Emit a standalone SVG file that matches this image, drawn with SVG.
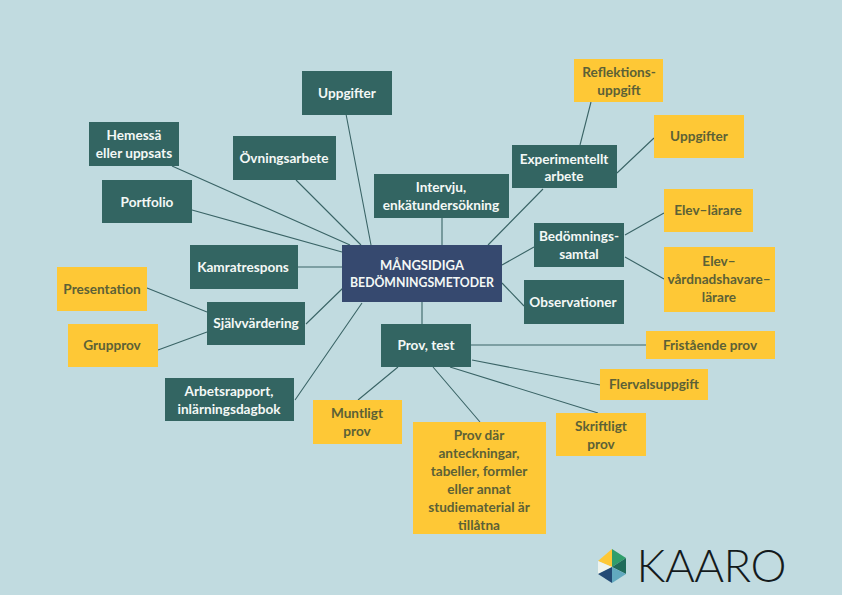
<svg xmlns="http://www.w3.org/2000/svg" width="842" height="595" viewBox="0 0 842 595">
<style>
.g rect{fill:#336562}
.y rect{fill:#fec836}
.c rect{fill:#36496f}
text{font-family:"Lato","Liberation Sans",sans-serif;font-weight:700;font-size:13.6px;text-anchor:middle}
.g text,.c text{fill:#f4f8f6}
.c text{font-size:13px}
.y text{fill:#5c6136}
#connectors path{stroke:#3a6466;stroke-width:1.1;fill:none}
</style>
<rect width="842" height="595" fill="#c1dbe0"/>
<g id="connectors">
<path d="M346 114L371 245M172 166L350 245M296 180L361 245M192 210L342 252M298 267H342M306 324L343 288M295 400L362 303M442 218V245M488 245L543 189M502 265L534 247M502 283L524 306M422 302V324M147 288L207 312M158 350L207 332M591 102L580 145M654 138L617 173M625 235L664 213M625 257L664 279M471 345H646M472 360L600 385M450 367L598 413M433 367L480 422M398 367L358 400"/>
</g>
<g id="center" class="c"><rect x="342" y="245" width="160" height="57"/><text x="422" y="270">MÅNGSIDIGA</text><text x="422" y="287" textLength="144" lengthAdjust="spacingAndGlyphs">BEDÖMNINGSMETODER</text></g>
<g id="uppgifter1" class="g"><rect x="302" y="71" width="90" height="44"/><text x="347" y="98">Uppgifter</text></g>
<g id="hemessa" class="g"><rect x="89" y="122" width="90" height="44"/><text x="134" y="140">Hemessä</text><text x="134" y="158">eller uppsats</text></g>
<g id="ovningsarbete" class="g"><rect x="233" y="136" width="103" height="44"/><text x="284" y="163">Övningsarbete</text></g>
<g id="portfolio" class="g"><rect x="102" y="180" width="90" height="43"/><text x="147" y="207">Portfolio</text></g>
<g id="intervju" class="g"><rect x="374" y="174" width="135" height="44"/><text x="441" y="192">Intervju,</text><text x="441" y="210">enkätundersökning</text></g>
<g id="experimentellt" class="g"><rect x="512" y="145" width="105" height="43"/><text x="564" y="164">Experimentellt</text><text x="564" y="181">arbete</text></g>
<g id="bedomningssamtal" class="g"><rect x="534" y="223" width="90" height="44"/><text x="579" y="241">Bedömnings-</text><text x="579" y="259">samtal</text></g>
<g id="observationer" class="g"><rect x="524" y="280" width="100" height="44"/><text x="573" y="307">Observationer</text></g>
<g id="kamratrespons" class="g"><rect x="190" y="245" width="108" height="44"/><text x="243" y="272">Kamratrespons</text></g>
<g id="sjalvvardering" class="g"><rect x="207" y="302" width="98" height="43"/><text x="256" y="328">Självvärdering</text></g>
<g id="arbetsrapport" class="g"><rect x="165" y="378" width="129" height="43"/><text x="229" y="396">Arbetsrapport,</text><text x="229" y="414">inlärningsdagbok</text></g>
<g id="prov" class="g"><rect x="381" y="324" width="90" height="43"/><text x="426" y="350">Prov, test</text></g>
<g id="reflektion" class="y"><rect x="574" y="59" width="89" height="43"/><text x="619" y="77">Reflektions-</text><text x="619" y="95">uppgift</text></g>
<g id="uppgifter2" class="y"><rect x="654" y="115" width="90" height="43"/><text x="699" y="141">Uppgifter</text></g>
<g id="elev-larare" class="y"><rect x="664" y="189" width="89" height="43"/><text x="708" y="215">Elev–lärare</text></g>
<g id="elev-vardnad" class="y"><rect x="664" y="247" width="111" height="65"/><text x="719" y="266">Elev–</text><text x="719" y="284">vårdnadshavare–</text><text x="719" y="302">lärare</text></g>
<g id="fristaende" class="y"><rect x="646" y="331" width="129" height="28"/><text x="710" y="350">Fristående prov</text></g>
<g id="flerval" class="y"><rect x="600" y="369" width="108" height="31"/><text x="654" y="389">Flervalsuppgift</text></g>
<g id="skriftligt" class="y"><rect x="556" y="413" width="90" height="43"/><text x="601" y="431">Skriftligt</text><text x="601" y="449">prov</text></g>
<g id="anteckningar" class="y"><rect x="413" y="422" width="133" height="112"/><text x="479" y="440">Prov där</text><text x="479" y="458">anteckningar,</text><text x="479" y="476">tabeller, formler</text><text x="479" y="494">eller annat</text><text x="479" y="512">studiematerial är</text><text x="479" y="530">tillåtna</text></g>
<g id="muntligt" class="y"><rect x="313" y="400" width="89" height="44"/><text x="357" y="418">Muntligt</text><text x="357" y="436">prov</text></g>
<g id="presentation" class="y"><rect x="57" y="267" width="90" height="44"/><text x="102" y="294">Presentation</text></g>
<g id="grupprov" class="y"><rect x="68" y="324" width="90" height="43"/><text x="112" y="350">Grupprov</text></g>
<g id="logo">
<path d="M612 549L598 561L612 567Z" fill="#fec836"/><path d="M612 549L626 558L612 567Z" fill="#2f9e6b"/><path d="M626 558V574L612 567Z" fill="#1f6b5a"/><path d="M598 561V574L612 567Z" fill="#eef3ee"/><path d="M612 567L626 574L612 583Z" fill="#62a9bf"/><path d="M612 567V583L598 574Z" fill="#234a75"/>
<text x="711.500" y="581.500" textLength="150" style="font-weight:300;font-size:45.500px;fill:#141a1c">KAARO</text>
</g>
</svg>
